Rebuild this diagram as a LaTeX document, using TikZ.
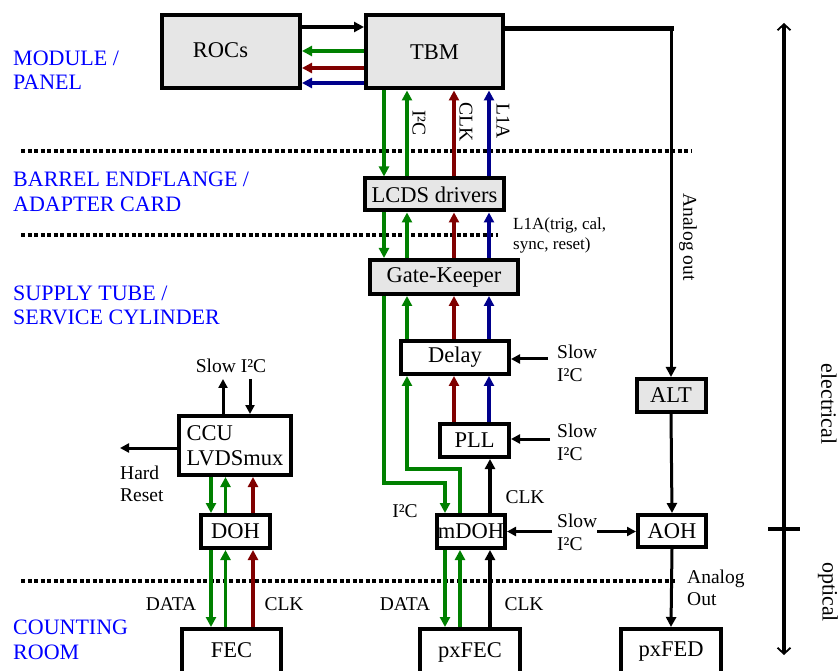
\documentclass[tikz,border=0pt]{standalone}
\usepackage{fontspec}
\setmainfont{Liberation Serif}
\usetikzlibrary{arrows.meta}
\definecolor{gA}{RGB}{0,128,0}
\definecolor{rA}{RGB}{128,0,0}
\definecolor{bA}{RGB}{0,0,140}
\definecolor{boxgray}{RGB}{230,230,230}
\definecolor{lblue}{RGB}{0,0,255}
\begin{document}
\begin{tikzpicture}[x=1pt,y=-1pt,
  box/.style={draw, line width=4pt, inner sep=0, font=\fontsize{22.5}{25.5}\selectfont},
  gbox/.style={box, fill=boxgray},
  wbox/.style={box, fill=white},
  lab/.style={inner sep=0, font=\fontsize{19.5}{22.5}\selectfont, align=left},
  smalllab/.style={inner sep=0, font=\fontsize{17}{20}\selectfont, align=left},
  blab/.style={inner sep=0, anchor=west, align=left, text=lblue, font=\fontsize{22}{24.5}\selectfont},
  conn/.style={line width=3.4pt, -{Triangle[length=10pt,width=10pt]}},
  sarrow/.style={line width=3pt, -{Triangle[length=9pt,width=9pt]}},
  dotline/.style={line width=4.2pt, dash pattern=on 4pt off 2.5pt},
]
\useasboundingbox (0,0) rectangle (839,671);

% dotted separators
\coordinate (d1a) at (21,151); \coordinate (d1b) at (692,151);
\coordinate (d2a) at (21,235); \coordinate (d2b) at (498,235);
\coordinate (d3a) at (21,581); \coordinate (d3b) at (675,581);
\draw[dotline] (d1a) -- (d1b);
\draw[dotline] (d2a) -- (d2b);
\draw[dotline] (d3a) -- (d3b);

% region labels
\node[blab] (lmod) at (13,70) {MODULE /\\PANEL};
\node[blab] (lbar) at (13,192) {BARREL ENDFLANGE /\\ADAPTER CARD};
\node[blab] (lsup) at (13,305.5) {SUPPLY TUBE /\\SERVICE CYLINDER};
\node[blab] (lcnt) at (13,640) {COUNTING\\ROOM};

% boxes
\node[gbox, minimum width=138pt, minimum height=73pt] (ROCs) at (231,52) {\raisebox{3pt}{ROCs}\kern21pt};
\node[gbox, minimum width=137pt, minimum height=73pt] (TBM) at (434.5,52) {\raisebox{-2pt}{TBM}};
\node[gbox, minimum width=139pt, minimum height=32pt] (LCDS) at (434.5,194.5) {LCDS drivers};
\node[gbox, minimum width=148pt, minimum height=34pt] (GK) at (444,277) {Gate-Keeper};
\node[wbox, minimum width=108pt, minimum height=33pt] (Delay) at (455,357.5) {Delay};
\node[wbox, minimum width=69pt, minimum height=33pt] (PLL) at (474.5,440.5) {PLL};
\node[wbox, minimum width=68pt, minimum height=33pt] (mDOH) at (471,531.5) {mDOH};
\node[wbox, minimum width=112pt, minimum height=59pt, align=left] (CCU) at (235,445.5) {CCU\\LVDSmux};
\node[wbox, minimum width=69pt, minimum height=33pt] (DOH) at (235.5,531.5) {DOH};
\node[gbox, minimum width=69pt, minimum height=33pt] (ALT) at (671,395.5) {ALT};
\node[wbox, minimum width=68pt, minimum height=32pt] (AOH) at (672,531) {AOH};
\node[wbox, minimum width=99pt, minimum height=46pt] (FEC) at (231.5,652) {\raisebox{3pt}{FEC}};
\node[wbox, minimum width=100pt, minimum height=46pt] (pxFEC) at (470,652) {\raisebox{3pt}{pxFEC}};
\node[wbox, minimum width=100pt, minimum height=46pt] (pxFED) at (671,652) {\raisebox{3pt}{pxFED}};

% column coordinates
\coordinate (xg1) at (384,0);
\coordinate (xg2) at (407,0);
\coordinate (xr) at (454,0);
\coordinate (xb) at (489,0);
\coordinate (xm1) at (445,0);
\coordinate (xm2) at (460,0);
\coordinate (xm3) at (490,0);
\coordinate (xc1) at (211,0);
\coordinate (xc2) at (225.5,0);
\coordinate (xc3) at (253,0);

% ROCs <-> TBM
\coordinate (ya) at (0,27);
\coordinate (yg) at (0,51);
\coordinate (yr) at (0,68);
\coordinate (yb) at (0,83);
\draw[conn, line width=4.5pt] (ROCs.east |- ya) -- (TBM.west |- ya);
\draw[conn, gA] (TBM.west |- yg) -- (ROCs.east |- yg);
\draw[conn, rA] (TBM.west |- yr) -- (ROCs.east |- yr);
\draw[conn, bA] (TBM.west |- yb) -- (ROCs.east |- yb);

% TBM <-> LCDS
\draw[conn, gA] (TBM.south -| xg1) -- (LCDS.north -| xg1);
\draw[conn, gA] (LCDS.north -| xg2) -- (TBM.south -| xg2);
\draw[conn, rA] (LCDS.north -| xr) -- (TBM.south -| xr);
\draw[conn, bA] (LCDS.north -| xb) -- (TBM.south -| xb);
\node[lab, rotate=-90] (lI2C) at (419,123) {I²C};
\node[lab, rotate=-90] (lCLK) at (466,122) {CLK};
\node[lab, rotate=-90] (lL1A) at (503,121) {L1A};

% LCDS <-> GK
\draw[conn, gA] (LCDS.south -| xg1) -- (GK.north -| xg1);
\draw[conn, gA] (GK.north -| xg2) -- (LCDS.south -| xg2);
\draw[conn, rA] (GK.north -| xr) -- (LCDS.south -| xr);
\draw[conn, bA] (GK.north -| xb) -- (LCDS.south -| xb);
\node[smalllab, anchor=west] (l1a) at (513,235) {L1A(trig, cal,\\sync, reset)};

% GK <-> Delay
\draw[conn, gA] (Delay.north -| xg2) -- (GK.south -| xg2);
\draw[conn, rA] (Delay.north -| xr) -- (GK.south -| xr);
\draw[conn, bA] (Delay.north -| xb) -- (GK.south -| xb);

% PLL -> Delay
\draw[conn, rA] (PLL.north -| xr) -- (Delay.south -| xr);
\draw[conn, bA] (PLL.north -| xb) -- (Delay.south -| xb);

% green I2C paths between GK/Delay and mDOH
\coordinate (bendA) at (0,483);
\coordinate (bendB) at (0,469);
\draw[conn, gA] (GK.south -| xg1) -- (xg1 |- bendA) -- (xm1 |- bendA) -- (mDOH.north -| xm1);
\draw[conn, gA] (mDOH.north -| xm2) -- (xm2 |- bendB) -- (xg2 |- bendB) -- (Delay.south -| xg2);
\node[lab] (lI2Cm) at (405,511) {I²C};

% mDOH -> PLL clock
\draw[conn] (mDOH.north -| xm3) -- (PLL.south -| xm3);
\node[lab] (lCLKm) at (525,497) {CLK};

% Slow I2C inputs
\node[lab, anchor=west] (sD) at (557,363.5) {Slow\\I²C};
\node[lab, anchor=west] (sP) at (557,442.5) {Slow\\I²C};
\node[lab, anchor=west] (sM) at (557,532.5) {Slow\\I²C};
\coordinate (sDa) at (548,359);
\coordinate (sPa) at (550,439);
\coordinate (sMa) at (552,531.5);
\coordinate (sAa) at (597,531.5);
\draw[sarrow] (sDa) -- (Delay.east |- sDa);
\draw[sarrow] (sPa) -- (PLL.east |- sPa);
\draw[sarrow] (sMa) -- (mDOH.east |- sMa);
\draw[sarrow] (sAa) -- (AOH.west |- sAa);

% mDOH <-> pxFEC
\draw[conn, gA] (mDOH.south -| xm1) -- (pxFEC.north -| xm1);
\draw[conn, gA] (pxFEC.north -| xm2) -- (mDOH.south -| xm2);
\draw[conn] (pxFEC.north -| xm3) -- (mDOH.south -| xm3);
\node[lab] (lDATAp) at (405,604) {DATA};
\node[lab] (lCLKp) at (524,604) {CLK};

% CCU
\coordinate (xs1) at (223,379);
\coordinate (xs2) at (250,379);
\draw[sarrow] (CCU.north -| xs1) -- (xs1);
\draw[sarrow] (xs2) -- (CCU.north -| xs2);
\node[lab] (sC) at (231,366) {Slow I²C};
\coordinate (hr) at (120,448);
\draw[sarrow] (CCU.west |- hr) -- (hr);
\node[lab, anchor=west] (lhr) at (120,484) {Hard\\Reset};

% CCU <-> DOH
\draw[conn, gA] (CCU.south -| xc1) -- (DOH.north -| xc1);
\draw[conn, gA] (DOH.north -| xc2) -- (CCU.south -| xc2);
\draw[conn, rA] (DOH.north -| xc3) -- (CCU.south -| xc3);

% DOH <-> FEC
\draw[conn, gA] (DOH.south -| xc1) -- (FEC.north -| xc1);
\draw[conn, gA] (FEC.north -| xc2) -- (DOH.south -| xc2);
\draw[conn, rA] (FEC.north -| xc3) -- (DOH.south -| xc3);
\node[lab] (lDATAf) at (171,604) {DATA};
\node[lab] (lCLKf) at (284,604) {CLK};

% analog path
\coordinate (aoC) at (671,29);
\draw[line width=5pt, line cap=rect] (TBM.east |- aoC) -- (aoC);
\draw[conn, line width=3pt] (aoC) -- (ALT.north);
\node[lab, rotate=-90] (lao) at (688,237) {Analog out};
\draw[conn, line width=3pt] (ALT.south) -- (AOH.north);
\draw[conn, line width=3pt] (AOH.south) -- (pxFED.north);
\node[lab, anchor=west] (lAO) at (687,588) {Analog\\Out};

% electrical / optical axis
\coordinate (axT) at (784,23);
\coordinate (axB) at (784,655);
\draw[line width=3.2pt, {Straight Barb[length=6pt,width=13pt,line width=1.8pt]}-{Straight Barb[length=6pt,width=13pt,line width=1.8pt]}] (axT) -- (axB);
\coordinate (tk1) at (768,529);
\coordinate (tk2) at (800,529);
\draw[line width=4pt] (tk1) -- (tk2);
\node[inner sep=0, font=\fontsize{22}{25}\selectfont, rotate=-90] (lel) at (829,404) {electrical};
\node[inner sep=0, font=\fontsize{22}{25}\selectfont, rotate=-90] (lop) at (828,592) {optical};
\end{tikzpicture}
\end{document}
